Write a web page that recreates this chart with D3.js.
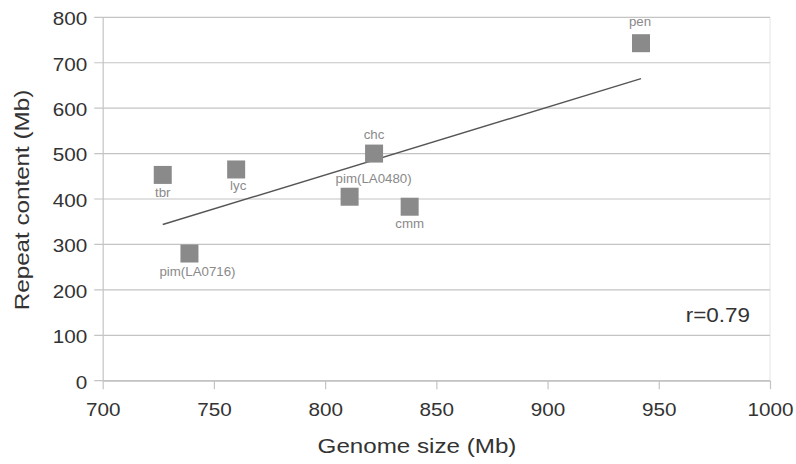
<!DOCTYPE html>
<html>
<head>
<meta charset="utf-8">
<script src="https://cdn.jsdelivr.net/npm/d3@7/dist/d3.min.js"></script>
<style>
  html, body { margin: 0; padding: 0; background: #fff; }
  svg { display: block; font-family: "Liberation Sans", Arial, sans-serif; }
</style>
</head>
<body>
<svg id="chart" width="796" height="464"></svg>
<script>
// ---- data ----
const species   = ["tbr", "lyc", "pim(LA0716)", "chc", "pim(LA0480)", "cmm", "pen"];
const genomeMb  = [727, 760, 739, 822, 811, 838, 942];
const repeatMb  = [453, 465, 280, 500, 405, 383, 743];
const xTicks    = [700, 750, 800, 850, 900, 950, 1000];
const yTicks    = [0, 100, 200, 300, 400, 500, 600, 700, 800];
const xTitle    = "Genome size (Mb)";
const yTitle    = "Repeat content (Mb)";
const rLabel    = "r=0.79";

// ---- layout ----
const M = {left: 102.7, right: 770, top: 17.3, bottom: 380.7};
const SX = 1.15; // horizontal text stretch of the reference

const svg = d3.select("#chart");
const x = d3.scaleLinear().domain([700, 1000]).range([M.left, M.right]);
const y = d3.scaleLinear().domain([0, 800]).range([M.bottom, M.top]);

// label placement (position styling, kept out of data)
const place = {
  "tbr":         {dy: 22,  dx: 0},
  "lyc":         {dy: 21,  dx: 2},
  "pim(LA0716)": {dy: 22,  dx: 8},
  "chc":         {dy: -15, dx: 0},
  "pim(LA0480)": {dy: -14, dx: 24},
  "cmm":         {dy: 21,  dx: 0},
  "pen":         {dy: -17, dx: -1}
};

// right border
svg.append("line")
  .attr("x1", M.right).attr("x2", M.right).attr("y1", M.top).attr("y2", M.bottom)
  .attr("stroke", "#e4e4e4").attr("stroke-width", 1);

// gridlines
svg.append("g").selectAll("line").data(yTicks).join("line")
  .attr("x1", M.left - 8.5).attr("x2", M.right)
  .attr("y1", d => y(d)).attr("y2", d => y(d))
  .attr("stroke", "#c4c4c4").attr("stroke-width", 1.2);

// y axis
const gy = svg.append("g").attr("transform", `translate(${M.left},0)`)
  .call(d3.axisLeft(y).tickValues(yTicks).tickFormat(d3.format("d")).tickSize(0).tickSizeOuter(0).tickPadding(15.4));
gy.select(".domain").attr("stroke", "#c4c4c4").attr("stroke-width", 1.2);
gy.selectAll("text")
  .attr("font-size", 18).attr("fill", "#333").attr("dy", 7.3)
  .attr("x", null)
  .attr("transform", `translate(-15.4,0) scale(${SX},1)`);

// x axis
const gx = svg.append("g").attr("transform", `translate(0,${M.bottom})`)
  .call(d3.axisBottom(x).tickValues(xTicks).tickFormat(d3.format("d")).tickSize(8.5).tickSizeOuter(0));
gx.select(".domain").attr("stroke", "#c4c4c4").attr("stroke-width", 1.2);
gx.selectAll(".tick line").attr("stroke", "#c4c4c4").attr("stroke-width", 1.2);
gx.selectAll("text")
  .attr("font-size", 18).attr("fill", "#333")
  .attr("y", 35.5).attr("dy", 0)
  .attr("transform", `scale(${SX},1)`);

// trend line (least squares fit of the points)
const mx = d3.mean(genomeMb), my = d3.mean(repeatMb);
const sxy = d3.sum(genomeMb, (g, i) => (g - mx) * (repeatMb[i] - my));
const sxx = d3.sum(genomeMb, g => (g - mx) * (g - mx));
const slope = sxy / sxx, icpt = my - slope * mx;
const gx0 = d3.min(genomeMb), gx1 = d3.max(genomeMb);
svg.append("line")
  .attr("x1", x(gx0)).attr("y1", y(icpt + slope * gx0))
  .attr("x2", x(gx1)).attr("y2", y(icpt + slope * gx1))
  .attr("stroke", "#555").attr("stroke-width", 1.4);

// points
const pts = species.map((s, i) => ({name: s, gx: genomeMb[i], ry: repeatMb[i]}));
const size = 18;
svg.append("g").selectAll("rect").data(pts).join("rect")
  .attr("x", d => x(d.gx) - size / 2).attr("y", d => y(d.ry) - size / 2)
  .attr("width", size).attr("height", size)
  .attr("fill", "#8a8a8a");

// point labels
svg.append("g").selectAll("text").data(pts).join("text")
  .attr("transform", d => `translate(${x(d.gx) + place[d.name].dx},${y(d.ry) + place[d.name].dy}) scale(1.09,1)`)
  .attr("text-anchor", "middle").attr("font-size", 12.2).attr("fill", "#8a8a8a")
  .text(d => d.name);

// r label
svg.append("text")
  .attr("transform", `translate(750,322) scale(${SX},1)`)
  .attr("text-anchor", "end").attr("font-size", 19.5).attr("fill", "#333")
  .text(rLabel);

// axis titles
svg.append("text")
  .attr("transform", `translate(417,453) scale(1.18,1)`)
  .attr("text-anchor", "middle").attr("font-size", 20.5).attr("fill", "#333")
  .text(xTitle);

svg.append("text")
  .attr("transform", `translate(29,200) rotate(-90) scale(1.18,1)`)
  .attr("text-anchor", "middle").attr("font-size", 20.5).attr("fill", "#333")
  .text(yTitle);
</script>
</body>
</html>
